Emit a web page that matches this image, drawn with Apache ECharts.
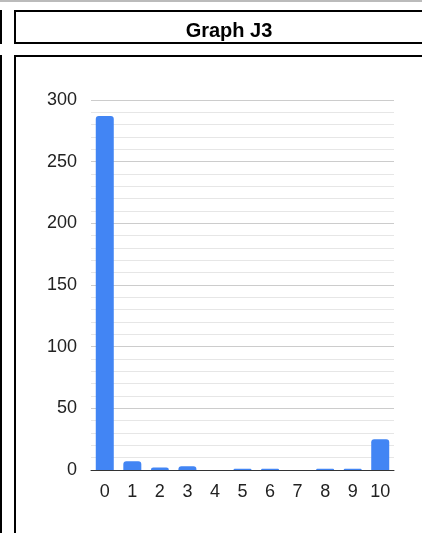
<!DOCTYPE html>
<html lang="en">
<head>
    <meta charset="utf-8" />
    <title>Graph J3</title>
    <script type="text/javascript" src="https://cdn.jsdelivr.net/npm/echarts@6/dist/echarts.min.js"></script>
    <style type="text/css">
        html, body { margin: 0; padding: 0; background: #fff; }
        #main { width: 422px; height: 533px; }
    </style>
</head>
<body>
    <div id="main"></div>
    <script type="text/javascript">
        var chartTitle = 'Graph J3';
        var categories = ['0', '1', '2', '3', '4', '5', '6', '7', '8', '9', '10'];
        var counts = [287, 7, 2, 3, 0, 1, 1, 0, 1, 1, 25];
        var yTicks = [0, 50, 100, 150, 200, 250, 300];

        var myChart = echarts.init(document.getElementById('main'));

        var option = {
            animation: false,
            backgroundColor: '#fff',
            textStyle: { fontFamily: 'Liberation Sans, Arial, sans-serif' },
            title: {
                text: chartTitle,
                left: 224,
                top: 16,
                textAlign: 'center',
                textStyle: { fontSize: 20, fontWeight: 'bold', color: '#000' }
            },
            graphic: [
                // frames around the cells
                { type: 'line', shape: { x1: 0, y1: 1, x2: 422, y2: 1 }, style: { stroke: '#bbb', lineWidth: 2 } },
                { type: 'line', shape: { x1: 1, y1: 10, x2: 1, y2: 44 }, style: { stroke: '#000', lineWidth: 2 } },
                { type: 'line', shape: { x1: 1, y1: 55, x2: 1, y2: 533 }, style: { stroke: '#000', lineWidth: 2 } },
                { type: 'rect', shape: { x: 15, y: 11, width: 420, height: 32 }, style: { fill: 'none', stroke: '#000', lineWidth: 2 } },
                { type: 'rect', shape: { x: 15, y: 56, width: 420, height: 500 }, style: { fill: 'none', stroke: '#000', lineWidth: 2 } }
            ],
            grid: { left: 91, right: 28, top: 100, bottom: 63 },
            xAxis: {
                type: 'category',
                data: categories,
                axisLine: { lineStyle: { color: '#333', width: 1 } },
                axisTick: { show: false },
                axisLabel: { fontSize: 18, color: '#222', margin: 13 }
            },
            yAxis: {
                type: 'value',
                min: yTicks[0],
                max: yTicks[yTicks.length - 1],
                interval: 50,
                axisLine: { show: false },
                axisTick: { show: false },
                axisLabel: { fontSize: 18, color: '#222', margin: 14 },
                splitLine: { lineStyle: { color: '#ccc' } },
                minorTick: { show: false, splitNumber: 5 },
                minorSplitLine: { show: true, lineStyle: { color: '#e6e6e6' } }
            },
            series: [{
                type: 'bar',
                data: counts,
                barWidth: 18,
                itemStyle: { color: '#4285f4', borderRadius: [3, 3, 0, 0] }
            }]
        };
        myChart.setOption(option);
    </script>
</body>
</html>
